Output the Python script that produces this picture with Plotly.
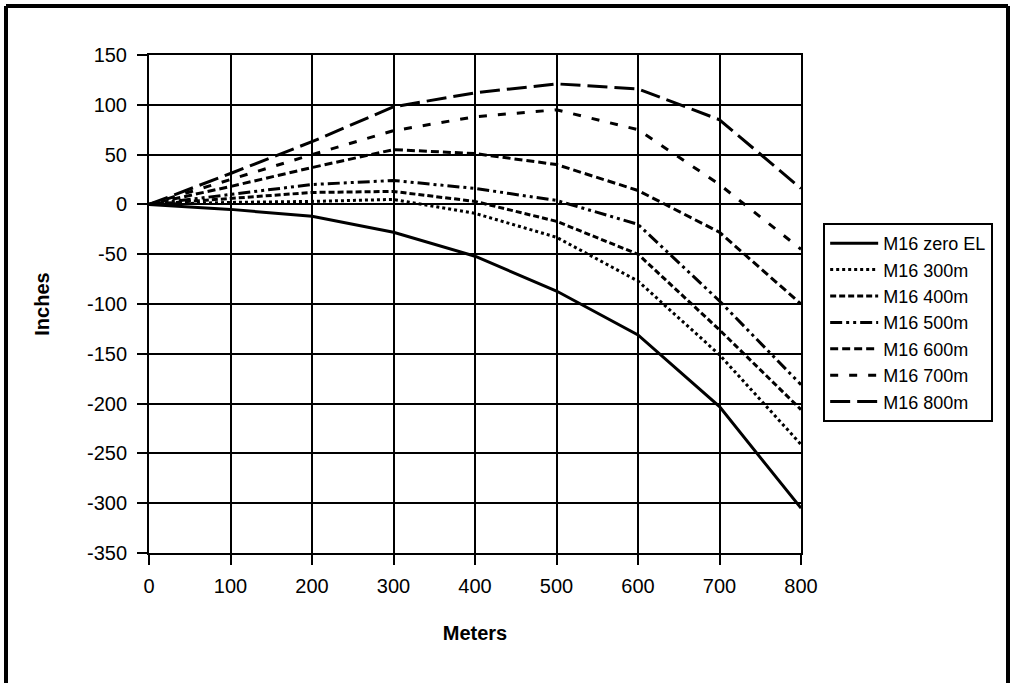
import plotly.graph_objects as go

meters = [0, 100, 200, 300, 400, 500, 600, 700, 800]
zero_el = [0, -5, -12, -28, -52, -87, -131, -203, -305]
m300 = [0, 2, 3, 5, -9, -33, -77, -151, -241]
m400 = [0, 6, 12, 13, 3, -17, -50, -126, -206]
m500 = [0, 10, 20, 24, 16, 4, -20, -97, -181]
m600 = [0, 18, 37, 55, 51, 40, 14, -28, -100]
m700 = [0, 25, 50, 74, 88, 95, 75, 20, -45]
m800 = [0, 31, 63, 98, 112, 121, 116, 85, 16]

x_ticks = [0, 100, 200, 300, 400, 500, 600, 700, 800]
y_ticks = [150, 100, 50, 0, -50, -100, -150, -200, -250, -300, -350]
y_tick_text = ["150", "100", "50", "0", "-50", "-100", "-150", "-200", "-250", "-300", "-350"]

series = [
    ("M16 zero EL", zero_el, "solid"),
    ("M16 300m", m300, "dot"),
    ("M16 400m", m400, "6px,3px"),
    ("M16 500m", m500, "12px,4px,3px,4px,3px,4px"),
    ("M16 600m", m600, "8px,4px"),
    ("M16 700m", m700, "8px,11px"),
    ("M16 800m", m800, "20px,7px"),
]

fig = go.Figure()
for name, vals, dash in series:
    fig.add_trace(go.Scatter(
        x=meters, y=vals, name=name, mode="lines",
        line=dict(color="black", width=3, dash=dash),
    ))

font = "Liberation Sans, Arial, sans-serif"
axis_common = dict(
    showgrid=True, gridcolor="black", gridwidth=2,
    showline=True, linecolor="black", linewidth=2, mirror=True,
    ticks="outside", ticklen=10, tickcolor="black", tickwidth=2,
    tickfont=dict(family=font, size=20, color="black"),
    zeroline=False,
)

fig.update_layout(
    width=1014, height=683,
    margin=dict(l=149, r=213, t=55, b=130),
    paper_bgcolor="white", plot_bgcolor="white",
    font=dict(family=font, color="black"),
    xaxis=dict(range=[0, 800], tickvals=x_ticks, ticklabelstandoff=4,
               title=dict(text="<b>Meters</b>", font=dict(family=font, size=20), standoff=30),
               **axis_common),
    yaxis=dict(range=[-350, 150], tickvals=y_ticks, ticktext=y_tick_text, ticklabelstandoff=6,
               title=dict(text="<b>Inches</b>", font=dict(family=font, size=20), standoff=32),
               **axis_common),
    legend=dict(
        x=1.034, y=1 - (223 - 55) / 498, xanchor="left", yanchor="top",
        bordercolor="black", borderwidth=2, bgcolor="white",
        font=dict(family=font, size=18, color="black"),
        tracegroupgap=0, itemwidth=48,
    ),
    showlegend=True,
)

# outer frame of the figure (top, left, right)
fx0, fx1, fy1, fy0 = (6 - 149) / 652, (1008 - 149) / 652, 1 + (55 - 6) / 498, -0.3
fig.add_shape(type="line", xref="paper", yref="paper", x0=fx0, x1=fx1, y0=fy1, y1=fy1,
              line=dict(color="black", width=4))
fig.add_shape(type="line", xref="paper", yref="paper", x0=fx0, x1=fx0, y0=fy1, y1=fy0,
              line=dict(color="black", width=4))
fig.add_shape(type="line", xref="paper", yref="paper", x0=fx1, x1=fx1, y0=fy1, y1=fy0,
              line=dict(color="black", width=4))

fig.write_html("out.html", config={"displayModeBar": False},
               post_script="document.body.style.margin='0';")
